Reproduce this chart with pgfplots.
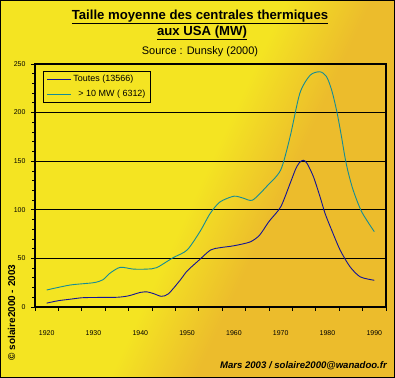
\documentclass[border=0pt]{standalone}
\usepackage{fontspec}
\setmainfont{Liberation Sans}
\usepackage{pgfplots}
\pgfplotsset{compat=1.18}
\definecolor{bgY}{RGB}{244,228,34}
\definecolor{bgO}{RGB}{236,188,44}
\definecolor{toutes}{RGB}{20,20,150}
\definecolor{plus}{RGB}{20,140,150}
\pgfdeclarehorizontalshading{bgshade}{100bp}{color(0bp)=(bgY); color(50bp)=(bgY); color(60bp)=(bgO); color(100bp)=(bgO)}
\begin{document}
\begin{tikzpicture}
\path[use as bounding box] (0,0) rectangle (395bp,378bp);
\shade[shading=bgshade, shading angle=-25] (0,0) rectangle (395bp,378bp);
\draw[line width=1bp] (0.5bp,0.5bp) rectangle (394.5bp,377.5bp);
\node[font=\bfseries\fontsize{13.2}{15}\selectfont] at (200bp,361bp) {\underline{Taille moyenne des centrales thermiques}};
\node[font=\bfseries\fontsize{13.2}{15}\selectfont] at (202bp,345bp) {\underline{aux USA (MW)}};
\node[font=\fontsize{11}{13}\selectfont] at (200bp,326bp) {Source : Dunsky (2000)};
\node[font=\bfseries\itshape\fontsize{9.6}{11}\selectfont, anchor=base east, inner sep=0pt] at (387bp,10bp) {Mars 2003 / solaire2000@wanadoo.fr};
\node[font=\bfseries\fontsize{10}{12}\selectfont, rotate=90] at (11.5bp,65.5bp) {© solaire2000 - 2003};
\begin{axis}[
  at={(35bp,71bp)}, anchor=south west,
  scale only axis, width=351bp, height=243bp,
  xmin=1917.5, xmax=1992.5, ymin=0, ymax=250,
  axis line style={line width=1.6bp},
  xtick={1917.5,1922.5,...,1992.5}, xticklabels={},
  extra x ticks={1920,1930,...,1990},
  extra x tick style={major tick length=0pt, tick label style={yshift=-20bp}},
  ytick={0,50,...,250}, minor y tick num=4,
  yticklabel style={xshift=-2bp},
  xtick pos=bottom, ytick pos=left,
  ymajorgrids, grid style={black, line width=0.8bp},
  tick align=outside, major tick length=4bp, minor tick length=3bp,
  every tick/.style={black, line width=0.8bp},
  tick label style={font=\fontsize{7}{8}\selectfont},
  /pgf/number format/assume math mode=true,
  /pgf/number format/1000 sep={},
  legend style={at={(0.023,0.972)}, anchor=north west, draw=black, line width=1bp, fill=none,
    font=\fontsize{9}{10}\selectfont, row sep=3bp, inner xsep=3bp, inner ysep=2bp},
  legend cell align=left,
  legend image code/.code={\draw[#1] (0bp,0bp) -- (24bp,0bp);},
]
\addplot[toutes, line width=0.9bp, smooth, tension=0.45] coordinates {
(1920,4) (1922.5,6.5) (1925,8) (1927.5,9.5) (1930,9.8) (1935,10) (1937.5,11.5)
(1940,15) (1941.5,15.5) (1943,13.5) (1944.5,11) (1946,13.5) (1948.5,27.5) (1950,37)
(1952.5,48) (1955,58.6) (1957,61) (1960,63) (1963.5,67) (1965.5,74) (1967.5,88)
(1970,103) (1972,127) (1973.2,142) (1974,148.5) (1974.8,151) (1975.6,148) (1977,134) (1978.4,113.5)
(1979.5,96) (1980.9,79) (1982.7,58.6) (1984.8,41.5) (1987,31) (1990,27.5)
};
\addlegendentry{Toutes (13566)}
\addplot[plus, line width=0.9bp, smooth, tension=0.45] coordinates {
(1920,17.5) (1925,22.6) (1930,25) (1932,28) (1933.5,34.7) (1935.7,40.8) (1938.5,39)
(1941.4,39) (1943.5,40.5) (1947,50.7) (1950,58.6) (1952.8,78) (1954.9,96) (1957,108)
(1960,114) (1962,112) (1964,110) (1967,124) (1970,141) (1972,175) (1974.1,220)
(1976.3,238.5) (1978.4,242) (1979.8,237) (1980.9,223) (1982,201) (1983,175)
(1983.7,155) (1984.4,139) (1985.5,120) (1987.3,98) (1990,77.5)
};
\addlegendentry{\ \ > 10 MW ( 6312)}
\end{axis}
\end{tikzpicture}
\end{document}
